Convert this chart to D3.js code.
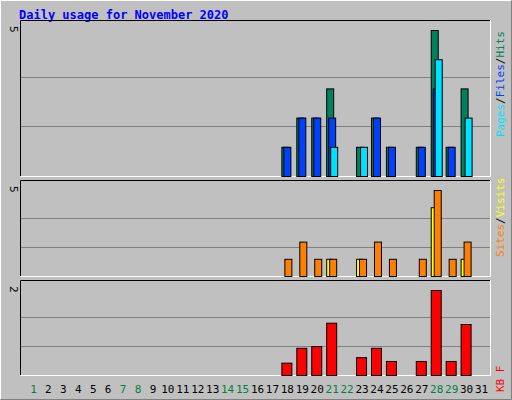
<!DOCTYPE html><html><head><script src="https://cdn.jsdelivr.net/npm/d3@7"></script>
<style>body{margin:0;background:#fff}text{font-family:"DejaVu Sans Mono",monospace}</style></head><body><svg id="c" width="512" height="400"></svg><script>
const days=d3.range(1,32);
const weekend=[1,7,8,14,15,21,22,28,29];
const hits=[0,0,0,0,0,0,0,0,0,0,0,0,0,0,0,0,0,1,2,2,3,0,1,2,1,0,1,5,1,3,0];
const files=[0,0,0,0,0,0,0,0,0,0,0,0,0,0,0,0,0,1,2,2,2,0,0,2,1,0,1,3,1,0,0];
const pages=[0,0,0,0,0,0,0,0,0,0,0,0,0,0,0,0,0,0,0,0,1,0,1,0,0,0,0,4,0,2,0];
const visits=[0,0,0,0,0,0,0,0,0,0,0,0,0,0,0,0,0,1,2,1,1,0,1,2,1,0,1,5,1,2,0];
const sites=[0,0,0,0,0,0,0,0,0,0,0,0,0,0,0,0,0,0,0,0,1,0,1,0,0,0,0,4,0,1,0];
const kb=[0,0,0,0,0,0,0,0,0,0,0,0,0,0,0,0,0,0.29,0.64,0.68,1.23,0,0.42,0.64,0.33,0,0.33,2,0.33,1.2,0];
const svg=d3.select("#c");
svg.append("rect").attr("width",512).attr("height",400).attr("fill","#c0c0c0");
svg.append("path").attr("d","M0.5,399.5V0.5H511.5").attr("stroke","#fff").attr("fill","none");
svg.append("path").attr("d","M0.5,399.5H511.5V0.5").attr("stroke","#808080").attr("fill","none");
svg.append("text").attr("x",19).attr("y",19).attr("fill","#0000ff").attr("font-weight","bold").attr("font-size",12).text("Daily usage for November 2020");
const x=d3.scaleBand().domain(days).range([27,490]).padding(0);
function panel(y0,y1,max,series,labels){
  svg.append("path").attr("d",`M20.5,${y1}V${y0}.5H490.5`).attr("stroke","#000").attr("fill","none");
  svg.append("path").attr("d",`M20.5,${y1}.5H490.5V${y0}`).attr("stroke","#fff").attr("fill","none");
  const y=d3.scaleLinear().domain([0,max]).range([y1,y0+10]);
  [1,2].forEach(i=>{const gy=Math.round(y1-(y1-y0-10)*i/3*1.02)+0.5;svg.append("line").attr("x1",21).attr("x2",490).attr("y1",gy).attr("y2",gy).attr("stroke","#808080");});
  series.forEach((s,k)=>{
    svg.append("g").selectAll("rect").data(days.filter((d,i)=>s.vals[i]>0)).join("rect")
      .attr("x",d=>x(d)+x.bandwidth()/2-7+k*s.off+0.5).attr("width",s.w).attr("y",d=>y(s.vals[d-1])+0.5).attr("height",d=>y1-y(s.vals[d-1]))
      .attr("fill",s.c).attr("stroke","#000");
  });
  svg.append("text").attr("transform",`translate(10,${y0+6}) rotate(90)`).attr("font-size",11).text(max);
  const t=svg.append("text").attr("transform",`translate(504,${labels.y}) rotate(-90)`).attr("font-size",11);
  labels.parts.forEach(p=>t.append("tspan").attr("fill",p[1]).text(p[0]));
}
panel(20,176,5,[{vals:hits,c:"#00805c",w:7,off:0},{vals:files,c:"#0040ff",w:7,off:2},{vals:pages,c:"#00e0ff",w:7,off:2}],{y:137,parts:[["Pages","#00e0ff"],["/","#000"],["Files","#0040ff"],["/","#000"],["Hits","#00805c"]]});
panel(180,276,5,[{vals:sites,c:"#ffff00",w:6,off:0},{vals:visits,c:"#ff8000",w:7,off:3}],{y:257,parts:[["Sites","#ff8000"],["/","#000"],["Visits","#ffff00"]]});
panel(280,375,2,[{vals:kb,c:"#ff0000",w:10,off:0}],{y:392,parts:[["KB","#ff0000"],[" ","#000"],["F","#ff0000"]]});
svg.append("g").selectAll("text").data(days).join("text").attr("x",d=>x(d)+x.bandwidth()/2-1).attr("y",393).attr("text-anchor","middle").attr("font-size",11)
 .attr("fill",d=>weekend.includes(d)?"#008040":"#000").text(d=>d);
</script></body></html>
